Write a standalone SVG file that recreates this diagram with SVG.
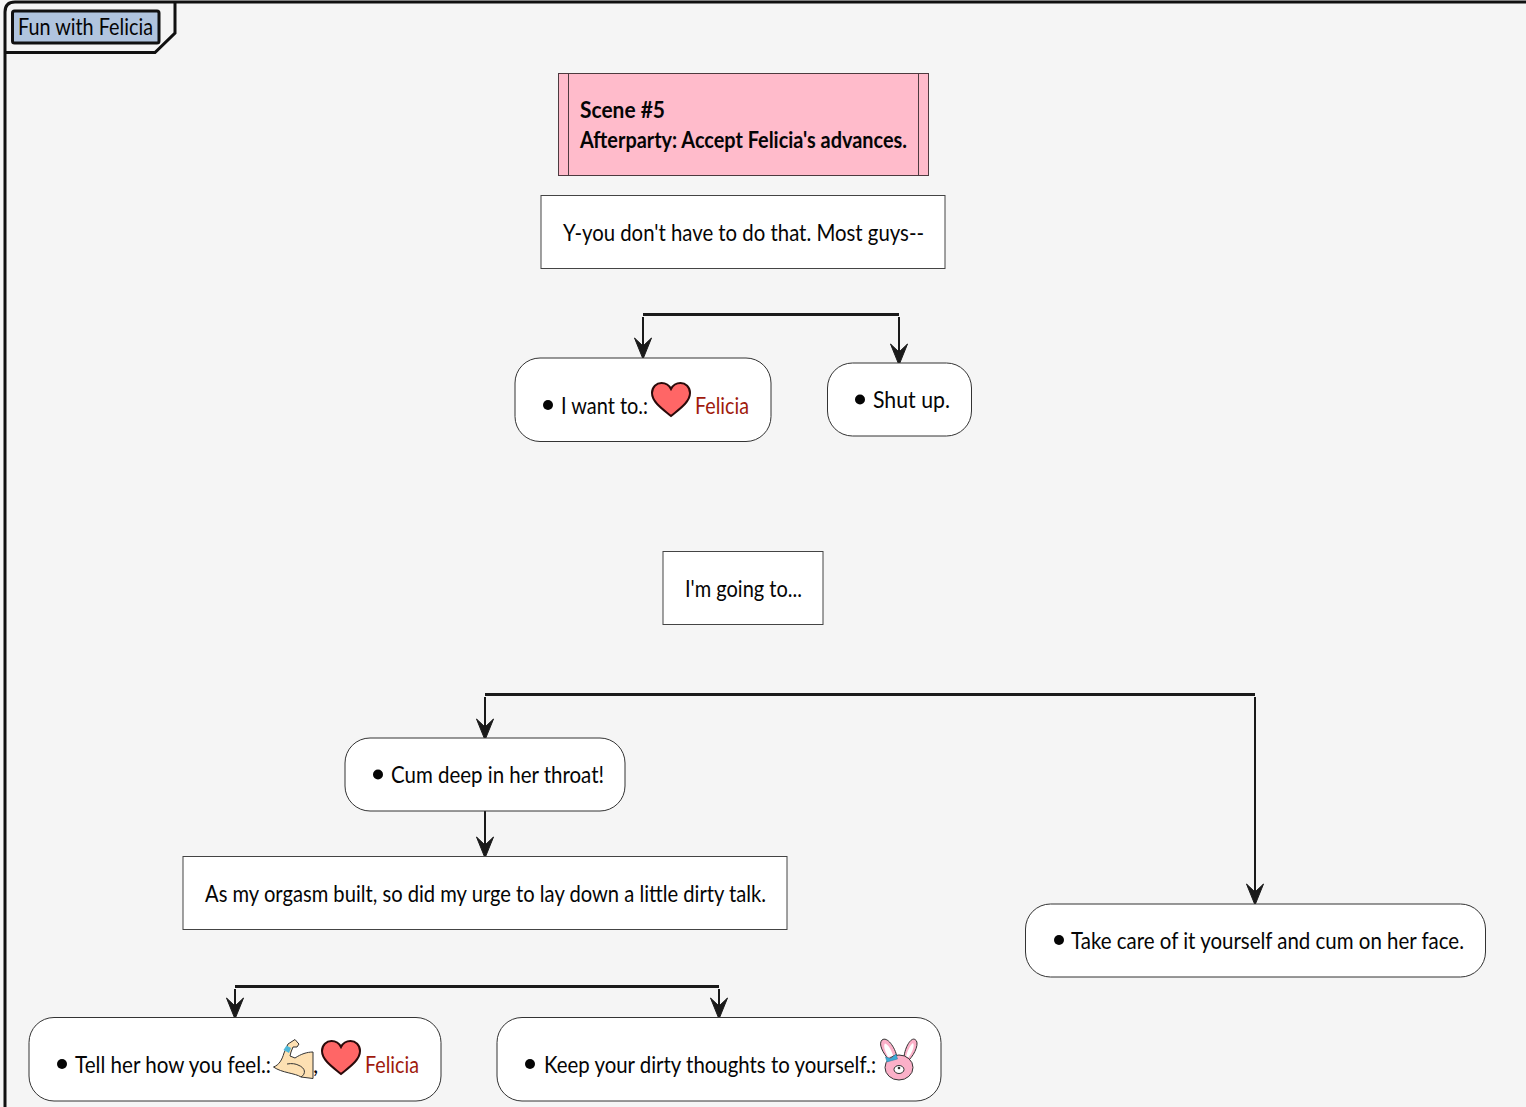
<svg xmlns="http://www.w3.org/2000/svg" width="1526" height="1107" viewBox="0 0 1526 1107">
<style>
text{font-family:"Lato","Liberation Sans",sans-serif;font-size:23px;fill:#050505}
.b{font-weight:700}
.box{fill:#fff;stroke:#444;stroke-width:1}
.act{fill:#fff;stroke:#333;stroke-width:1}
.red{fill:#a01a0c}
.bar{stroke:#1a1a1a;stroke-width:3;fill:none}
.ln{stroke:#1a1a1a;stroke-width:2;fill:none}
.ah{fill:#1a1a1a;stroke:#1a1a1a;stroke-width:1}
.heart{fill:#ff6666;stroke:#2a0a0a;stroke-width:2}
</style>
<defs>
<path id="arrow" class="ah" d="M0 0L-8.500-21L0-13L8.500-21Z"/>
<path id="heart" class="heart" d="M0 15.500C-7 9.500-19 2-19-7.500C-19-13.500-14.500-17.500-9.500-17.500C-5.500-17.500-2-15.500 0-11.500C2-15.500 5.500-17.500 9.500-17.500C14.500-17.500 19-13.500 19-7.500C19 2 7 9.500 0 15.500Z"/>
</defs>
<rect width="1526" height="1107" fill="#f5f5f5"/>
<g id="frame">
<path d="M5 1107V12Q5 2 15 2H1526" fill="none" stroke="#111" stroke-width="3"/>
<path d="M5 52.500H155L175 33V2" fill="none" stroke="#111" stroke-width="3"/>
<rect x="12.500" y="11" width="146.500" height="32" rx="2" fill="#b0c4de" stroke="#111" stroke-width="3"/>
<text x="18" y="35" textLength="135" lengthAdjust="spacingAndGlyphs">Fun with Felicia</text>
</g>
<g id="connectors">
<path class="bar" d="M643 314.500H899"/>
<path class="ln" d="M643 317V350M899 317V356"/>
<use href="#arrow" x="643" y="359"/><use href="#arrow" x="899" y="365"/>
<path class="bar" d="M485 694.500H1255"/>
<path class="ln" d="M485 697V730M1255 697V896M485 811V850"/>
<use href="#arrow" x="485" y="740"/><use href="#arrow" x="1255" y="905"/><use href="#arrow" x="485" y="858"/>
<path class="bar" d="M235 986.500H719"/>
<path class="ln" d="M235 989V1010M719 989V1010"/>
<use href="#arrow" x="235" y="1019"/><use href="#arrow" x="719" y="1019"/>
</g>
<g id="scene">
<rect x="558.500" y="73.500" width="370" height="102" fill="#ffbbcb" stroke="#4d3a3f"/>
<path d="M568.500 73.500V175.500M918.500 73.500V175.500" stroke="#4d3a3f" fill="none"/>
<text class="b" x="580" y="118" textLength="85" lengthAdjust="spacingAndGlyphs">Scene #5</text>
<text class="b" x="580" y="148" textLength="327" lengthAdjust="spacingAndGlyphs">Afterparty: Accept Felicia's advances.</text>
</g>
<g id="n1">
<rect class="box" x="541" y="195.500" width="404" height="73"/>
<text x="563" y="241" textLength="361" lengthAdjust="spacingAndGlyphs">Y-you don't have to do that. Most guys--</text>
</g>
<g id="n2">
<rect class="act" x="515" y="358" width="256" height="83.500" rx="25"/>
<circle cx="548" cy="405" r="5" fill="#050505"/>
<text x="561" y="414" textLength="87" lengthAdjust="spacingAndGlyphs">I want to.:</text>
<use href="#heart" x="671" y="400.500"/>
<text class="red" x="695" y="414" textLength="54" lengthAdjust="spacingAndGlyphs">Felicia</text>
</g>
<g id="n3">
<rect class="act" x="827.500" y="363" width="144" height="73" rx="25"/>
<circle cx="860" cy="399.500" r="5" fill="#050505"/>
<text x="873" y="408" textLength="77" lengthAdjust="spacingAndGlyphs">Shut up.</text>
</g>
<g id="n4">
<rect class="box" x="663" y="551.500" width="160" height="73"/>
<text x="685" y="597" textLength="117" lengthAdjust="spacingAndGlyphs">I'm going to...</text>
</g>
<g id="n5">
<rect class="act" x="345" y="738" width="280" height="73" rx="25"/>
<circle cx="378" cy="774.500" r="5" fill="#050505"/>
<text x="391" y="783" textLength="213" lengthAdjust="spacingAndGlyphs">Cum deep in her throat!</text>
</g>
<g id="n6">
<rect class="box" x="183" y="856.500" width="604" height="73"/>
<text x="205" y="902" textLength="561" lengthAdjust="spacingAndGlyphs">As my orgasm built, so did my urge to lay down a little dirty talk.</text>
</g>
<g id="n7">
<rect class="act" x="1025.500" y="904" width="460" height="73" rx="25"/>
<circle cx="1059" cy="940" r="5" fill="#050505"/>
<text x="1071" y="949" textLength="393" lengthAdjust="spacingAndGlyphs">Take care of it yourself and cum on her face.</text>
</g>
<g id="n8">
<rect class="act" x="29" y="1017.500" width="412" height="83.500" rx="25"/>
<circle cx="62" cy="1064" r="5" fill="#050505"/>
<text x="75" y="1073" textLength="196" lengthAdjust="spacingAndGlyphs">Tell her how you feel.:</text>
<path d="M273.500 1067C279 1065 282 1060 284 1053L288 1044L295 1039.500L298 1043L299 1044L297 1047L293 1047L291 1052L290 1056L295 1058C301 1054 307 1052 313 1052L313 1078.500L301 1077C295 1073 282 1073 273.500 1067Z" fill="#fde0b2" stroke="#333" stroke-width="1"/>
<path d="M283.500 1050L289 1053L291 1048L286.500 1045.500Z" fill="#4fb7d8"/>
<path d="M301 1077C306 1074 306 1068 298 1065M287 1064C292 1063 296 1064 298 1065" fill="none" stroke="#333"/>
<text x="313" y="1073">,</text>
<use href="#heart" x="341" y="1058.500"/>
<text class="red" x="365" y="1073" textLength="54" lengthAdjust="spacingAndGlyphs">Felicia</text>
</g>
<g id="n9">
<rect class="act" x="497" y="1017.500" width="444" height="83.500" rx="25"/>
<circle cx="530" cy="1064" r="5" fill="#050505"/>
<text x="544" y="1073" textLength="332" lengthAdjust="spacingAndGlyphs">Keep your dirty thoughts to yourself.:</text>
<path d="M889 1060C883 1053 878 1044 882 1040C887 1036 895 1047 897 1057Z" fill="#fbb0c8" stroke="#333"/>
<path d="M904 1057C905 1047 911 1037 915 1039.500C920 1042 915 1054 909 1060Z" fill="#fbb0c8" stroke="#333"/>
<path d="M888 1057C885 1051 883 1046 885 1043.500C888 1044 892 1051 893 1056Z" fill="#fff"/>
<path d="M906 1057C907 1051 911 1044 913 1043C915 1046 912 1053 908 1058Z" fill="#fff"/>
<ellipse cx="899" cy="1067.500" rx="14" ry="12.500" fill="#fbb0c8" stroke="#333"/>
<ellipse cx="899" cy="1069.500" rx="5" ry="4" fill="#fff" stroke="#333"/>
<circle cx="899" cy="1068" r="1.300" fill="#333"/>
<path d="M885.500 1057L891 1058.500L896 1054L897.500 1059L892 1060.500L887 1062Z" fill="#39a9d6" stroke="#2a7a9a" stroke-width=".5"/>
</g>
</svg>
